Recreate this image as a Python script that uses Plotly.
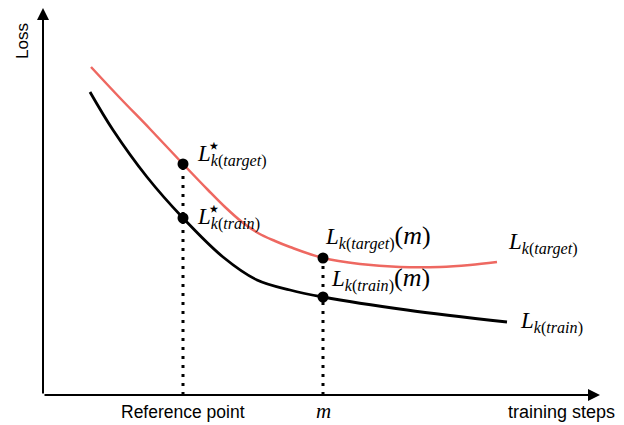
import plotly.graph_objects as go

# training steps (arbitrary units) and loss values
steps_target = [48, 77, 107, 140, 165, 182, 199, 215, 232, 247, 280, 317, 357, 397, 427, 454]
loss_target = [328, 297, 266, 231, 205, 188, 173, 162, 154, 148, 137, 131, 128, 128, 130, 133]
steps_train = [47, 70, 104, 140, 180, 214, 247, 280, 364, 464]
loss_train = [303, 265, 218, 177, 138, 115, 105, 98, 85, 73]

ref_step = 140
m_step = 280
x_end = 557
y_end = 387

RED = "#EE6861"
SERIF = "Liberation Serif"
SANS = "Liberation Sans"

def at(xs, ys, x):
    return ys[xs.index(x)]

ref_target = at(steps_target, loss_target, ref_step)
ref_train = at(steps_train, loss_train, ref_step)
m_target = at(steps_target, loss_target, m_step)
m_train = at(steps_train, loss_train, m_step)

fig = go.Figure()

# dotted verticals
for xv, ytop in [(ref_step, ref_target), (m_step, m_target)]:
    fig.add_trace(go.Scatter(x=[xv, xv], y=[0, ytop], mode="lines",
                             line=dict(color="black", width=3, dash="3px,6px"),
                             hoverinfo="skip", showlegend=False))

fig.add_trace(go.Scatter(x=steps_target, y=loss_target, mode="lines",
                         line=dict(color=RED, width=2.5, shape="spline", smoothing=1),
                         showlegend=False))
fig.add_trace(go.Scatter(x=steps_train, y=loss_train, mode="lines",
                         line=dict(color="black", width=2.8, shape="spline", smoothing=1),
                         showlegend=False))
fig.add_trace(go.Scatter(x=[ref_step, ref_step, m_step, m_step],
                         y=[ref_target, ref_train, m_target, m_train], mode="markers",
                         marker=dict(color="black", size=11), showlegend=False))

ann = []
# axes arrows
ann.append(dict(x=x_end, y=0, ax=0, ay=0, xref="x", yref="y", axref="x", ayref="y",
                showarrow=True, arrowhead=2, arrowsize=1.2, arrowwidth=2, arrowcolor="black", text=""))
ann.append(dict(x=0, y=y_end, ax=0, ay=0, xref="x", yref="y", axref="x", ayref="y",
                showarrow=True, arrowhead=2, arrowsize=1.2, arrowwidth=2, arrowcolor="black", text=""))

def txt(x, y, t, size, family, xanchor="left", yanchor="middle", xshift=0, yshift=0, angle=0):
    ann.append(dict(x=x, y=y, xref="x", yref="y", text=t, showarrow=False,
                    font=dict(size=size, family=family, color="black"),
                    xanchor=xanchor, yanchor=yanchor, xshift=xshift, yshift=yshift,
                    textangle=angle))

def mlab(xp, yp, dx, dy, sub, star=False, tail=""):
    t = "<i>L</i><sub><i>k</i>(<i>%s</i>)</sub>%s" % (sub, tail)
    txt(xp, yp, t, 23, SERIF, xshift=dx, yshift=dy)
    if star:
        txt(xp, yp, "⋆", 22, "DejaVu Sans", xshift=dx + 10, yshift=dy + 10)

mlab(ref_step, ref_target, 12, 9, "target", star=True)
mlab(ref_step, ref_train, 12, 0, "train", star=True)
mlab(m_step, m_target, 0, 21, "target", tail="<span style='font-size:26px'>(<i>m</i>)</span>")
mlab(m_step, m_train, 6, 18, "train", tail="<span style='font-size:26px'>(<i>m</i>)</span>")
mlab(steps_target[-1], loss_target[-1], 9, 19, "target")
mlab(steps_train[-1], loss_train[-1], 11, 0, "train")

txt(ref_step, 0, "Reference point", 17.5, SANS, xanchor="center", yshift=-17)
txt(m_step, 0, "<i>m</i>", 21, SERIF, xanchor="center", yshift=-16)
txt(x_end + 17, 0, "training steps", 18, SANS, xanchor="right", yshift=-17)
txt(-21, y_end - 33, "Loss", 17, SANS, xanchor="center", angle=-90)

fig.update_layout(
    width=616, height=417, margin=dict(l=0, r=0, t=0, b=0),
    paper_bgcolor="white", plot_bgcolor="white",
    xaxis=dict(range=[-35, 581], visible=False, fixedrange=True),
    yaxis=dict(range=[-30, 387], visible=False, fixedrange=True),
    annotations=ann, showlegend=False,
)
fig.write_html("out.html")
